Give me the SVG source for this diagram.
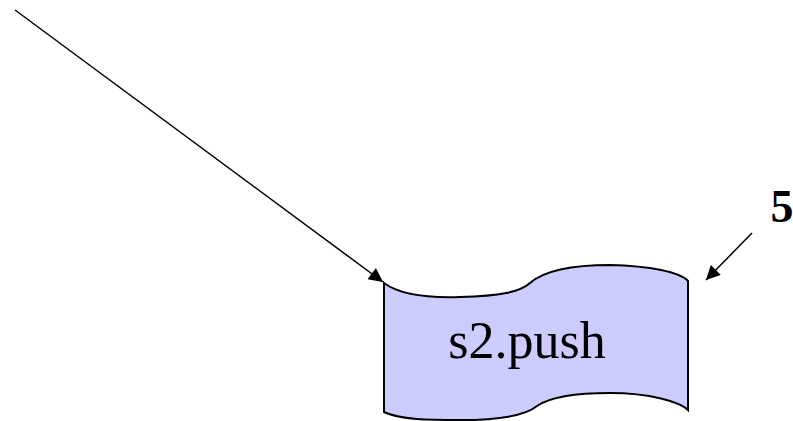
<svg xmlns="http://www.w3.org/2000/svg" width="793" height="421" viewBox="0 0 793 421">
  <defs>
    <marker id="arrowBig" viewBox="0 0 10 10" refX="10" refY="5" markerWidth="16" markerHeight="14" markerUnits="userSpaceOnUse" orient="auto">
      <path d="M0,0 L10,5 L0,10 z" fill="#000"/>
    </marker>
  </defs>
  <style>
    .conn { stroke: #000; stroke-width: 1.5; fill: none; }
    .tape { fill: #ccccff; stroke: #000; stroke-width: 2; }
    .label { font-family: "Liberation Serif", serif; fill: #000; }
  </style>
  <rect width="793" height="421" fill="#fff"/>
  <g id="connectors">
    <line class="conn" x1="15" y1="10" x2="383" y2="282" marker-end="url(#arrowBig)"/>
    <line class="conn" x1="752" y1="233" x2="706" y2="280" marker-end="url(#arrowBig)"/>
  </g>
  <g id="node-push">
    <path class="tape" d="M384,283 C400,295 430,298 460,297 C500,296 520,292 530,283 C545,270 575,265 610,265 C650,266 680,272 688,281 L688,410 C680,402 650,393 610,393 C575,393 550,397 537,406 C525,416 500,420 460,420 C430,420 400,420 384,412 Z"/>
    <text class="label" x="527" y="358" font-size="52" text-anchor="middle">s2.push</text>
  </g>
  <g id="label-5">
    <text class="label" x="782" y="222" font-size="46" font-weight="bold" text-anchor="middle">5</text>
  </g>
</svg>
